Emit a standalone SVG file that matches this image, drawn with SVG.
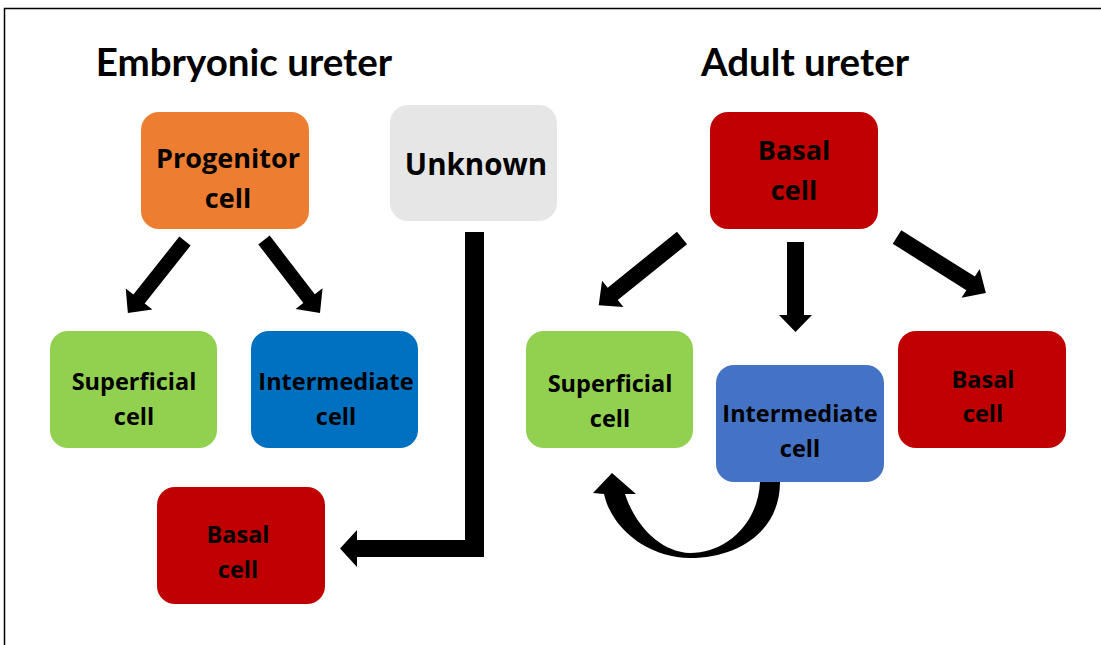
<svg xmlns="http://www.w3.org/2000/svg" width="1101" height="645" viewBox="0 0 1101 645">
<style>
.t{font-family:"Open Sans",Lato,sans-serif;font-weight:bold;fill:#000;text-anchor:middle}
.title{font-family:Lato,"Open Sans",sans-serif;font-size:38.5px}
.big{font-size:27px}
.sm{font-size:23.5px}
.arr{fill:#000}
</style>
<rect x="0" y="0" width="1101" height="645" fill="#fff"/>
<rect x="4.5" y="8.5" width="1200" height="700" fill="none" stroke="#000" stroke-width="1.5"/>
<g id="titles">
<text class="t title" x="244" y="76">Embryonic ureter</text>
<text class="t title" x="805" y="76">Adult ureter</text>
</g>
<g id="progenitor"><rect x="141" y="112" width="168" height="117" rx="18" fill="#ED7D31"/><text class="t big" x="228" y="168">Progenitor</text><text class="t big" x="228" y="208">cell</text></g>
<g id="unknown"><rect x="390" y="105" width="167" height="116" rx="18" fill="#E7E6E6"/><text class="t big" x="476" y="175" style="font-size:29.5px">Unknown</text></g>
<g id="basal-adult"><rect x="710" y="112" width="168" height="117" rx="18" fill="#C00000"/><text class="t big" x="794" y="160">Basal</text><text class="t big" x="794" y="200">cell</text></g>
<g id="superficial-emb"><rect x="50" y="331" width="167" height="117" rx="18" fill="#92D050"/><text class="t sm" x="134" y="390">Superficial</text><text class="t sm" x="134" y="425">cell</text></g>
<g id="intermediate-emb"><rect x="251" y="331" width="167" height="117" rx="18" fill="#0070C0"/><text class="t sm" x="336" y="390">Intermediate</text><text class="t sm" x="336" y="425">cell</text></g>
<g id="basal-emb"><rect x="157" y="487" width="168" height="117" rx="18" fill="#C00000"/><text class="t sm" x="238" y="543">Basal</text><text class="t sm" x="238" y="578">cell</text></g>
<g id="superficial-adult"><rect x="526" y="331" width="167" height="117" rx="18" fill="#92D050"/><text class="t sm" x="610" y="392">Superficial</text><text class="t sm" x="610" y="427">cell</text></g>
<g id="intermediate-adult"><rect x="716" y="365" width="168" height="117" rx="18" fill="#4472C4"/><text class="t sm" x="800" y="422">Intermediate</text><text class="t sm" x="800" y="457">cell</text></g>
<g id="basal-adult2"><rect x="898" y="331" width="168" height="117" rx="18" fill="#C00000"/><text class="t sm" x="983" y="388">Basal</text><text class="t sm" x="983" y="422">cell</text></g>
<g id="connectors">
<polygon class="arr" transform="translate(185,241) rotate(128.4)" points="0,-7.2 74,-7.2 74,-17 92,0 74,17 74,7.2 0,7.2"/>
<polygon class="arr" transform="translate(264,240) rotate(52.5)" points="0,-7.2 74,-7.2 74,-17 92,0 74,17 74,7.2 0,7.2"/>
<path class="arr" d="M465,232 L484,232 L484,557 L357,557 L357,567 L340,548.5 L357,530 L357,540 L465,540 Z"/>
<polygon class="arr" transform="translate(682,238) rotate(141.1)" points="0,-8 89,-8 89,-17 107,0 89,17 89,8 0,8"/>
<polygon class="arr" transform="translate(795.5,242) rotate(90)" points="0,-8.5 73,-8.5 73,-16.5 90,0 73,16.5 73,8.5 0,8.5"/>
<polygon class="arr" transform="translate(897,237) rotate(32.2)" points="0,-8 87,-8 87,-17 105,0 87,17 87,8 0,8"/>
<path class="arr" d="M780,482 C780,530 740,558 690,558 C650,558 612,530 604,494 L593,493 L612,473 L636,494 L625,494 C635,525 660,552 690,553 C725,553 758,525 760,482 Z"/>
</g>
</svg>
